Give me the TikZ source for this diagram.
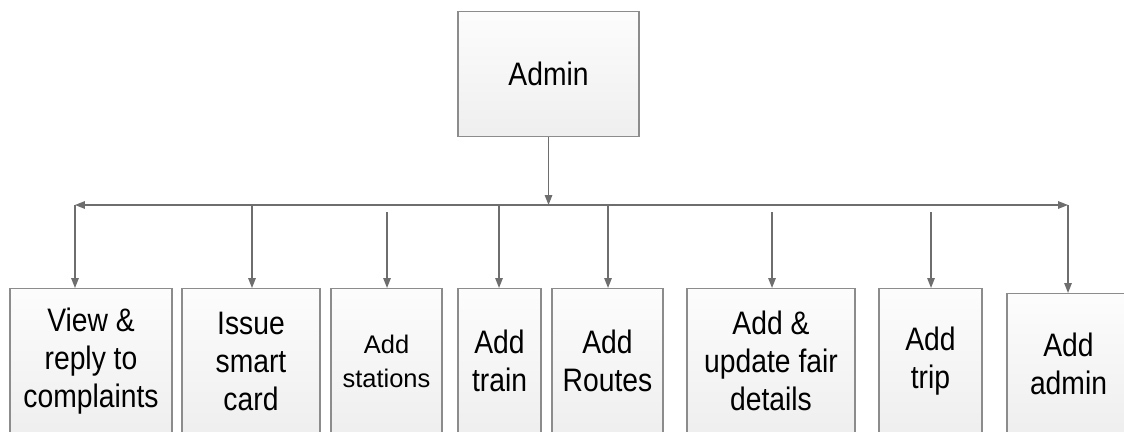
\documentclass[tikz,border=0pt]{standalone}
\usepackage{fontspec}
\setmainfont{Liberation Sans}
\newfontfamily\tallsans[FakeStretch=0.87]{Liberation Sans}
\usetikzlibrary{arrows.meta}

\definecolor{linegray}{HTML}{6E6E6E}
\definecolor{boxgray}{HTML}{8C8C8C}

\begin{document}
\begin{tikzpicture}[x=0.02cm,y=-0.02cm,
  box/.style={draw=boxgray, line width=0.8pt, top color=gray!2, bottom color=gray!13,
    align=center, anchor=north, inner sep=0pt, font=\tallsans\fontsize{18.5}{21.6}\selectfont},
  arr/.style={draw=linegray, line width=0.8pt, -{Triangle[length=2mm,width=1.5mm]}}]
  \useasboundingbox (0,0) rectangle (1124,432);
  \clip (0,0) rectangle (1124,432);

  \node[box, minimum width=3.62cm, minimum height=2.5cm] (admin) at (548.5,11) {Admin};

  \node[box, minimum width=3.24cm, minimum height=2.9cm] (c1) at (91,288) {View \&\\reply to\\complaints};
  \node[box, minimum width=2.76cm, minimum height=2.9cm] (c2) at (251,288) {Issue\\smart\\card};
  \node[box, minimum width=2.22cm, minimum height=2.9cm, font=\fontsize{14.5}{19.4}\selectfont] (c3) at (386.5,288) {Add\\stations};
  \node[box, minimum width=1.66cm, minimum height=2.9cm] (c4) at (499.5,288) {Add\\train};
  \node[box, minimum width=2.22cm, minimum height=2.9cm] (c5) at (607.5,288) {Add\\Routes};
  \node[box, minimum width=3.36cm, minimum height=2.9cm] (c6) at (771,288) {Add \&\\update fair\\details};
  \node[box, minimum width=2.06cm, minimum height=2.9cm] (c7) at (930.5,288) {Add\\trip};
  \node[box, minimum width=2.46cm, minimum height=2.8cm] (c8) at (1068.5,293) {Add\\admin};

  % bus line
  \coordinate (bus) at (548.5,205);
  \coordinate (busL) at (75,205);
  \coordinate (busR) at (1068,205);
  \coordinate (t2) at (252,205);
  \coordinate (t3) at (387,212);
  \coordinate (t4) at (499,205);
  \coordinate (t5) at (608,205);
  \coordinate (t6) at (772,212);
  \coordinate (t7) at (931,212);

  \draw[arr] (admin.south) -- (bus);
  \draw[arr] (bus) -- (busL);
  \draw[arr] (bus) -- (busR);

  \draw[arr] (busL) -- (busL |- c1.north);
  \draw[arr] (t2) -- (t2 |- c2.north);
  \draw[arr] (t3) -- (t3 |- c3.north);
  \draw[arr] (t4) -- (t4 |- c4.north);
  \draw[arr] (t5) -- (t5 |- c5.north);
  \draw[arr] (t6) -- (t6 |- c6.north);
  \draw[arr] (t7) -- (t7 |- c7.north);
  \draw[arr] (busR) -- (busR |- c8.north);
\end{tikzpicture}
\end{document}
